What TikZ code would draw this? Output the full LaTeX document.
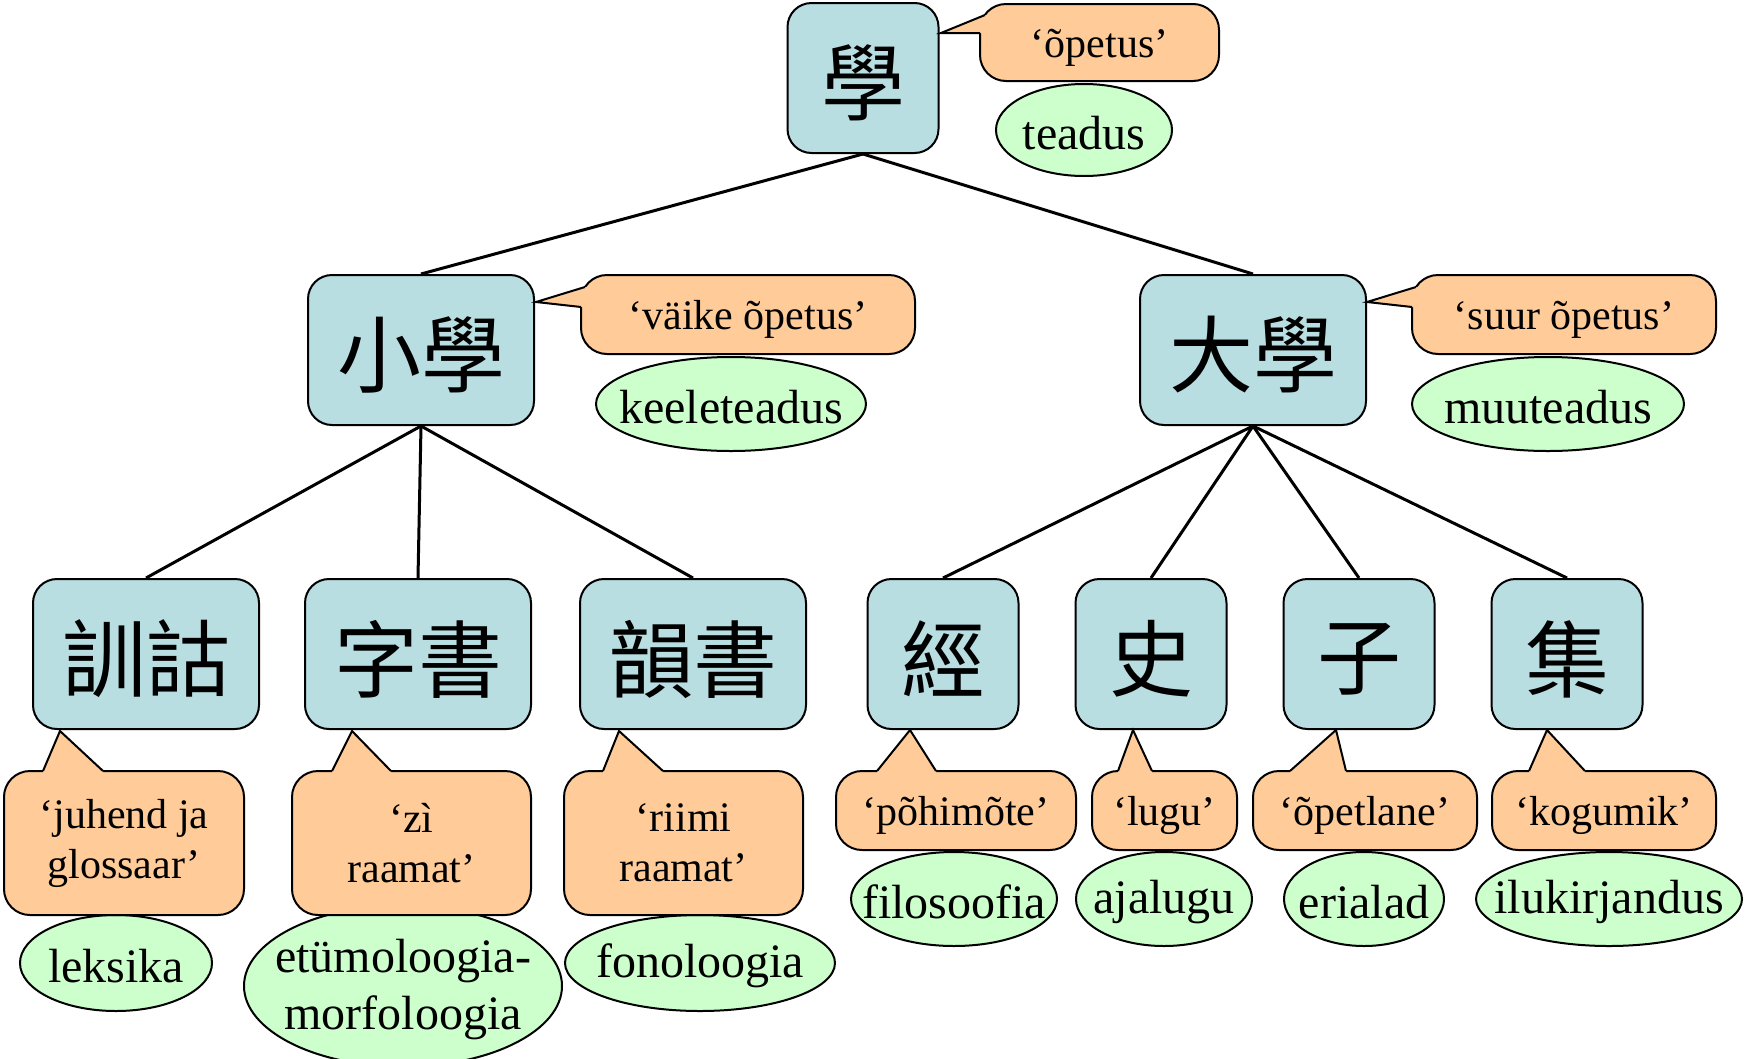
\documentclass[tikz,border=0pt]{standalone}
\usepackage{fontspec}
\setmainfont{Liberation Serif}
\newfontfamily\cjk{Noto Sans CJK TC}
\usetikzlibrary{shapes.geometric}
\definecolor{boxc}{HTML}{B9DEE2}
\definecolor{coc}{HTML}{FFCC99}
\definecolor{elc}{HTML}{CCFFCC}
\newcommand\cofont{\fontsize{42}{50}\selectfont}
\newcommand\elfont{\fontsize{48}{52}\selectfont}
\newcommand\hanfont{\cjk\fontsize{84}{90}\selectfont}
\newcommand\lowr[2]{\raisebox{-#1}[\height][\depth]{#2}}
\newcommand\zw[1]{\makebox[0pt]{\lowr{3pt}{#1}}}
\newcommand\hz[1]{\lowr{5pt}{#1}}
\newcommand\co[1]{\lowr{5pt}{#1}}
% tail on top side: tipx, tipy, b1x, b2x, topy
\newcommand\tailtop[5]{%
  \fill[coc] (#1,#2) -- (#3,#5) -- (#3,#5+8) -- (#4,#5+8) -- (#4,#5) -- cycle;
  \draw[tailline] (#3,#5) -- (#1,#2) -- (#4,#5);}
% tail on left side: tipx, tipy, b1x, b1y, b2x, b2y
\newcommand\tailleft[6]{%
  \fill[coc] (#1,#2) -- (#3,#4) -- (#3+8,#4) -- (#5+8,#6) -- (#5,#6) -- cycle;
  \draw[tailline] (#3,#4) -- (#1,#2) -- (#5,#6);}
\tikzset{
  x=1pt, y=-1pt,
  hanbox/.style={draw, line width=2pt, fill=boxc, rounded corners=24pt,
    minimum height=150pt, inner sep=0pt, font=\hanfont},
  cobody/.style={draw, line width=2pt, fill=coc, rounded corners=26pt,
    inner sep=0pt, align=center, font=\cofont},
  ell/.style={ellipse, draw, line width=2pt, fill=elc, inner sep=0pt, font=\elfont},
  edge/.style={line width=3pt},
  tailline/.style={line width=2pt, line join=miter},
}
\begin{document}
\begin{tikzpicture}
\useasboundingbox (0,0) rectangle (1746,1058);
\fill[white] (0,0) rectangle (1746,1058);

% tree boxes
\node[hanbox, minimum width=151pt] (xue) at (863,78) {\hz{學}};
\node[hanbox, minimum width=226pt] (xiao) at (421,350) {\hz{小學}};
\node[hanbox, minimum width=226pt] (da) at (1253,350) {\hz{大學}};
\node[hanbox, minimum width=226pt] (xungu) at (146,654) {\hz{訓詁}};
\node[hanbox, minimum width=226pt] (zishu) at (418,654) {\hz{字書}};
\node[hanbox, minimum width=226pt] (yunshu) at (693,654) {\hz{韻書}};
\node[hanbox, minimum width=151pt] (jing) at (943,654) {\hz{經}};
\node[hanbox, minimum width=151pt] (shi) at (1151,654) {\hz{史}};
\node[hanbox, minimum width=151pt] (zi) at (1359,654) {\hz{子}};
\node[hanbox, minimum width=151pt] (ji) at (1567,654) {\hz{集}};

% connectors
\draw[edge] (xue.south) -- (xiao.north);
\draw[edge] (xue.south) -- (da.north);
\draw[edge] (xiao.south) -- (xungu.north);
\draw[edge] (xiao.south) -- (zishu.north);
\draw[edge] (xiao.south) -- (yunshu.north);
\draw[edge] (da.south) -- (jing.north);
\draw[edge] (da.south) -- (shi.north);
\draw[edge] (da.south) -- (zi.north);
\draw[edge] (da.south) -- (ji.north);

% ellipses
\node[ell, minimum width=176pt, minimum height=92pt] (e0) at (1084,130) {\zw{teadus}};
\node[ell, minimum width=270pt, minimum height=94pt] (e1) at (731,404) {\zw{keeleteadus}};
\node[ell, minimum width=272pt, minimum height=94pt] (e2) at (1548,404) {\zw{muuteadus}};
\node[ell, minimum width=192pt, minimum height=96pt] (e3) at (116,963) {\zw{leksika}};
\node[ell, minimum width=318pt, minimum height=142pt] (e4) at (403,986)
  {\makebox[0pt]{\lowr{4pt}{\fontsize{48}{57}\selectfont\begin{tabular}{@{}c@{}}etümoloogia-\\morfoloogia\end{tabular}}}};
\node[ell, minimum width=270pt, minimum height=96pt] (e5) at (700,963) {\zw{fonoloogia}};
\node[ell, minimum width=206pt, minimum height=94pt] (e6) at (954,899) {\zw{filosoofia}};
\node[ell, minimum width=176pt, minimum height=94pt] (e7) at (1164,899) {\zw{ajalugu}};
\node[ell, minimum width=160pt, minimum height=94pt] (e8) at (1364,899) {\zw{erialad}};
\node[ell, minimum width=266pt, minimum height=94pt] (e9) at (1609,899) {\zw{ilukirjandus}};

% callouts
\node[cobody, minimum width=239pt, minimum height=77pt] (c0) at (1099.5,42.5) {\co{‘õpetus’}};
\tailleft{941}{33}{985}{15}{980}{33}
\node[cobody, minimum width=334pt, minimum height=79pt] (c1) at (748,314.5) {\co{‘väike õpetus’}};
\tailleft{536}{302}{585}{287}{581}{307}
\node[cobody, minimum width=304pt, minimum height=79pt] (c2) at (1564,314.5) {\co{‘suur õpetus’}};
\tailleft{1367}{302}{1416}{287}{1412}{307}

\node[cobody, minimum width=240pt, minimum height=144pt] (c3) at (124,843) {‘juhend ja\\glossaar’};
\tailtop{60}{731}{43}{103}{771}
\node[cobody, minimum width=239pt, minimum height=144pt] (c4) at (411.5,843) {‘zì\\raamat’};
\tailtop{352}{731}{332}{391}{771}
\node[cobody, minimum width=239pt, minimum height=144pt] (c5) at (683.5,843) {‘riimi\\raamat’};
\tailtop{619}{731}{603}{663}{771}
\node[cobody, minimum width=240pt, minimum height=79pt] (c6) at (956,810.5) {\co{‘põhimõte’}};
\tailtop{910}{730}{877}{936}{771}
\node[cobody, minimum width=145pt, minimum height=79pt] (c7) at (1164.5,810.5) {\co{‘lugu’}};
\tailtop{1133}{730}{1118}{1152}{771}
\node[cobody, minimum width=224pt, minimum height=79pt] (c8) at (1365,810.5) {\co{‘õpetlane’}};
\tailtop{1336}{730}{1290}{1346}{771}
\node[cobody, minimum width=224pt, minimum height=79pt] (c9) at (1604,810.5) {\co{‘kogumik’}};
\tailtop{1547}{730}{1529}{1585}{771}
\end{tikzpicture}
\end{document}
